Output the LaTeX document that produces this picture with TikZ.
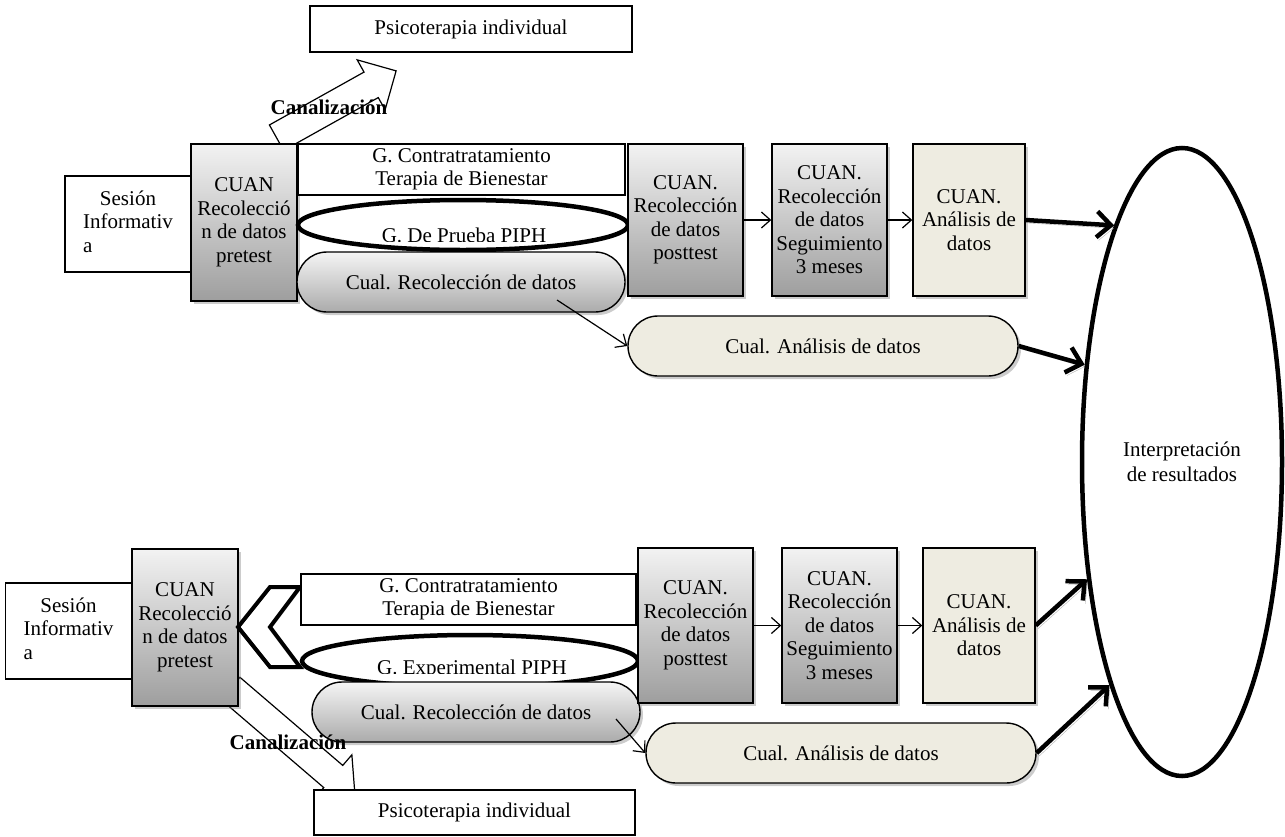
\documentclass[tikz,border=0pt]{standalone}
\usepackage{fontspec}
\setmainfont{Liberation Serif}
\usetikzlibrary{shapes,arrows.meta,positioning,shadows}
\definecolor{bgtan}{HTML}{EEECE1}
\newcommand{\boxfont}{\fontsize{21}{23.5}\selectfont}
\tikzstyle{plainbox} = [draw, line width=1.2pt, fill=white, inner sep=0pt, align=center]
\tikzstyle{cuanbox} = [draw, line width=1.4pt, top color=black!5, bottom color=black!38, inner sep=0pt, align=center, drop shadow={shadow xshift=3pt,shadow yshift=-3pt,opacity=.4}]
\tikzstyle{tanbox} = [draw, line width=1.4pt, fill=bgtan, inner sep=0pt, align=center, drop shadow={shadow xshift=3pt,shadow yshift=-3pt,opacity=.4}]
\tikzstyle{cualoval} = [draw, line width=1.4pt, rounded corners=30pt, top color=black!4, bottom color=black!33, inner sep=0pt, drop shadow={shadow xshift=3pt,shadow yshift=-3pt,opacity=.4}]
\tikzstyle{tanoval} = [draw, line width=1.4pt, rounded corners=30pt, fill=bgtan, inner sep=0pt, drop shadow={shadow xshift=3pt,shadow yshift=-3pt,opacity=.4}]
\tikzstyle{groupellipse} = [draw, ellipse, line width=4.5pt, fill=white, inner sep=0pt]
\tikzstyle{canalarrow} = [single arrow, draw, line width=1.2pt, fill=white, inner xsep=0pt, inner ysep=14pt, minimum width=56pt, single arrow head extend=14pt, anchor=tail]
\tikzstyle{smallarrow} = [-{Straight Barb[length=9pt,width=16pt]}, line width=1.2pt]
\tikzstyle{bigarrow} = [-{Straight Barb[length=14pt,width=26pt]}, line width=4.5pt,
preaction={draw=black!30, transform canvas={xshift=2.5pt,yshift=-3pt}}]

\begin{document}
\begin{tikzpicture}[x=1pt,y=-1pt,node distance=144pt,font=\boxfont]
\useasboundingbox (0,0) rectangle (1285,836);

% primera fase
\node[plainbox, minimum width=322pt, minimum height=46pt] (psi1) at (471,29) {Psicoterapia individual};
\node[canalarrow, minimum height=137pt, rotate=29.2] (canal1) at (276,138) {};
\node[font=\boxfont\bfseries] (canal1lbl) at (329,107) {Canalización};
\node[plainbox, minimum width=126pt, minimum height=96pt] (sesion1) at (128,224)
{\begin{tabular}{@{}l@{}}\multicolumn{1}{@{}c@{}}{Sesión}\\Informativ\\a\end{tabular}};
\node[cuanbox, minimum width=106pt, minimum height=157pt] (cuan1) at (244,222.5) {CUAN\\Recolecció\\n de datos\\pretest};
\node[plainbox, minimum width=327pt, minimum height=51pt] (contra1) at (461.5,169.5) {G. Contratratamiento\\Terapia de Bienestar};
\node[groupellipse, minimum width=330pt, minimum height=50pt] (piph1) at (463,225) {};
\begin{scope}
\clip (290,200) rectangle (640,241);
\node[anchor=base] (piph1lbl) at (464,242.5) {G. De Prueba PIPH};
\end{scope}
\node[cualoval, minimum width=328pt, minimum height=60pt] (cualrec1) at (461,282) {Cual. Recolección de datos};
\node[cuanbox, minimum width=115pt, minimum height=152pt] (post1) at (685.5,220) {CUAN.\\Recolección\\de datos\\posttest};
\node[cuanbox, minimum width=115pt, minimum height=152pt, right of = post1] (seg1) {CUAN.\\Recolección\\de datos\\Seguimiento\\3 meses};
\node[tanbox, minimum width=112pt, minimum height=152pt, right of = seg1, xshift=-4.5pt] (ana1) {CUAN.\\Análisis de\\datos};
\node[tanoval, minimum width=390pt, minimum height=60pt] (cualana1) at (823,346) {Cual. Análisis de datos};
\coordinate (r1) at (557,300);

% interpretacion
\node[draw, ellipse, line width=4.5pt, fill=white, inner sep=0pt, align=center,
minimum width=200pt, minimum height=628pt, font=\fontsize{21}{25}\selectfont] (interp) at (1182,462) {Interpretación\\de resultados};

% segunda fase
\node[plainbox, align=left, minimum width=126pt, minimum height=96pt] (sesion2) at (68.5,631)
{\begin{tabular}{@{}l@{}}\multicolumn{1}{@{}c@{}}{Sesión}\\Informativ\\a\end{tabular}};
\node[canalarrow, minimum height=164pt, rotate=-40.6] (canal2) at (230,688) {};
\node[cuanbox, minimum width=106pt, minimum height=157pt] (cuan2) at (185,627.5) {CUAN\\Recolecció\\n de datos\\pretest};
\draw[line width=4pt, fill=white] (270,587) -- (300,587) -- (270,627) -- (300,667) -- (270,667) -- (238,627) -- cycle;
\node[plainbox, minimum width=335pt, minimum height=51pt] (contra2) at (468.5,599.5) {G. Contratratamiento\\Terapia de Bienestar};
\node[groupellipse, minimum width=336pt, minimum height=52pt] (piph2) at (470,661) {};
\begin{scope}
\clip (290,640) rectangle (650,673);
\node[anchor=base] (piph2lbl) at (472,674.5) {G. Experimental PIPH};
\end{scope}
\node[cualoval, minimum width=328pt, minimum height=60pt] (cualrec2) at (476,712) {Cual. Recolección de datos};
\node[plainbox, minimum width=321pt, minimum height=45pt] (psi2) at (474.5,812.5) {Psicoterapia individual};
\node[font=\boxfont\bfseries] (canal2lbl) at (288,742) {Canalización};
\node[cuanbox, minimum width=115pt, minimum height=155pt] (post2) at (695.5,625.5) {CUAN.\\Recolección\\de datos\\posttest};
\node[cuanbox, minimum width=115pt, minimum height=155pt, right of = post2] (seg2) {CUAN.\\Recolección\\de datos\\Seguimiento\\3 meses};
\node[tanbox, minimum width=112pt, minimum height=155pt, right of = seg2, xshift=-4.5pt] (ana2) {CUAN.\\Análisis de\\datos};
\node[tanoval, minimum width=390pt, minimum height=60pt] (cualana2) at (841,753) {Cual. Análisis de datos};
\coordinate (r2) at (616,719);

\path
(post1) edge [smallarrow] (seg1)
(seg1) edge [smallarrow] (ana1)
(r1) edge [smallarrow] (cualana1.west)
(post2) edge [smallarrow] (seg2)
(seg2) edge [smallarrow] (ana2)
(r2) edge [smallarrow] (cualana2.west)
(ana1.east) edge [bigarrow] (interp.106.9)
(cualana1.east) edge [bigarrow] (interp.135)
(ana2.east) edge [bigarrow] (interp.231)
(cualana2.east) edge [bigarrow] (interp.252);

\end{tikzpicture}
\end{document}
